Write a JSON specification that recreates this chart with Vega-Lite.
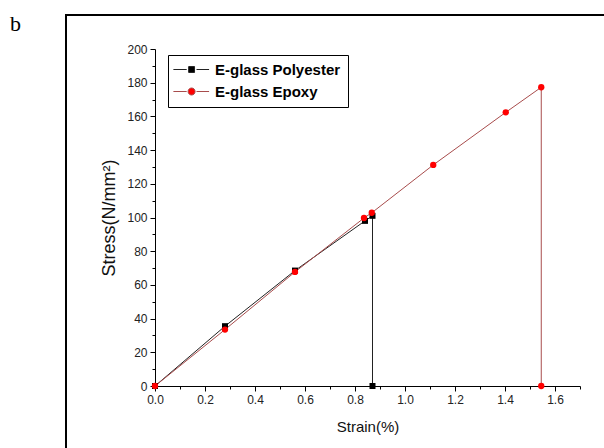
{
  "$schema": "https://vega.github.io/schema/vega-lite/v6.json",
  "width": 425,
  "height": 337,
  "autosize": {"type": "none"},
  "padding": {"left": 155, "top": 49, "right": 24, "bottom": 62},
  "background": "white",
  "title": {"text": "b", "font": "Liberation Serif", "fontSize": 22, "fontWeight": "normal", "anchor": "start", "frame": "group", "dx": -145, "dy": 60, "offset": 21, "baseline": "alphabetic", "color": "#000"},
  "config": {
    "view": {"stroke": null},
    "axis": {"labelFont": "Liberation Sans", "titleFont": "Liberation Sans", "labelColor": "#222", "titleColor": "#111", "domainColor": "#000", "tickColor": "#000", "grid": false, "labelFontSize": 12, "titleFontSize": 15, "titleFontWeight": "normal", "labelOverlap": false, "labelFlush": false},
    "legend": {"orient": "none", "legendX": 13, "legendY": 6, "strokeColor": "#000", "padding": 7, "fillColor": "white", "labelFont": "Liberation Sans", "labelFontSize": 15, "labelFontWeight": "bold", "labelColor": "#000", "symbolSize": 196, "labelOffset": 25, "rowPadding": 6, "symbolStrokeWidth": 1, "symbolOpacity": 1}
  },
  "data": {"values": [
    {"series": "E-glass Polyester", "i": 0, "strain": 0, "stress": 0},
    {"series": "E-glass Polyester", "i": 1, "strain": 0.28, "stress": 35.5},
    {"series": "E-glass Polyester", "i": 2, "strain": 0.56, "stress": 68.5},
    {"series": "E-glass Polyester", "i": 3, "strain": 0.84, "stress": 98},
    {"series": "E-glass Polyester", "i": 4, "strain": 0.87, "stress": 101},
    {"series": "E-glass Polyester", "i": 5, "strain": 0.87, "stress": 0},
    {"series": "E-glass Epoxy", "i": 0, "strain": 0, "stress": 0},
    {"series": "E-glass Epoxy", "i": 1, "strain": 0.28, "stress": 33.5},
    {"series": "E-glass Epoxy", "i": 2, "strain": 0.56, "stress": 67.7},
    {"series": "E-glass Epoxy", "i": 3, "strain": 0.836, "stress": 99.7},
    {"series": "E-glass Epoxy", "i": 4, "strain": 0.867, "stress": 102.8},
    {"series": "E-glass Epoxy", "i": 5, "strain": 1.113, "stress": 131.2},
    {"series": "E-glass Epoxy", "i": 6, "strain": 1.403, "stress": 162.4},
    {"series": "E-glass Epoxy", "i": 7, "strain": 1.545, "stress": 177.3},
    {"series": "E-glass Epoxy", "i": 8, "strain": 1.545, "stress": 0}
  ]},
  "resolve": {"axis": {"x": "independent", "y": "independent"}},
  "layer": [
    {
      "mark": {"type": "rect", "fill": null, "stroke": "#000", "strokeWidth": 1.5, "clip": false},
      "encoding": {
        "x": {"datum": -0.356, "type": "quantitative", "scale": {"domain": [0, 1.7], "nice": false, "zero": false},
          "axis": {"orient": "bottom", "values": [0.1, 0.3, 0.5, 0.7, 0.9, 1.1, 1.3, 1.5, 1.7], "labels": false, "domain": false, "tickSize": 3, "title": null}},
        "x2": {"datum": 2.2},
        "y": {"datum": 220.2, "type": "quantitative", "scale": {"domain": [0, 200], "nice": false, "zero": false},
          "axis": {"orient": "left", "values": [10, 30, 50, 70, 90, 110, 130, 150, 170, 190], "labels": false, "domain": false, "tickSize": 3, "title": null}},
        "y2": {"datum": -60}
      }
    },
    {
      "mark": {"type": "line", "strokeWidth": 1, "clip": false},
      "encoding": {
        "x": {"field": "strain", "type": "quantitative", "scale": {"domain": [0, 1.7], "nice": false, "zero": false},
          "axis": {"orient": "bottom", "values": [0, 0.2, 0.4, 0.6, 0.8, 1.0, 1.2, 1.4, 1.6], "format": ".1f", "tickSize": 5, "labelPadding": 3, "title": "Strain(%)", "titlePadding": 14, "labelOverlap": false}},
        "y": {"field": "stress", "type": "quantitative", "scale": {"domain": [0, 200], "nice": false, "zero": false},
          "axis": {"orient": "left", "values": [0, 20, 40, 60, 80, 100, 120, 140, 160, 180, 200], "tickSize": 5, "labelPadding": 3, "title": "Stress(N/mm²)", "titleFontSize": 18, "titlePadding": 8, "labelOverlap": false}},
        "stroke": {"field": "series", "type": "nominal", "scale": {"domain": ["E-glass Polyester", "E-glass Epoxy"], "range": ["#222222", "#a84c4c"]},
          "legend": {"title": null,
            "encode": {"symbols": {"update": {
              "shape": {"signal": "datum.value == 'E-glass Epoxy' ? 'M-1.3,0H0.6M2,0H3.8M1.8,0A0.5,0.5 0 1,1 0.8,0A0.5,0.5 0 1,1 1.8,0Z' : 'M-1.3,0H0.6M2,0H3.8M0.88,-0.42H1.72V0.42H0.88Z'"},
              "fill": {"signal": "datum.value == 'E-glass Epoxy' ? '#ff0000' : '#000'"},
              "stroke": {"signal": "datum.value == 'E-glass Epoxy' ? '#a84c4c' : '#000'"},
              "strokeWidth": {"value": 1},
              "opacity": {"value": 1}
            }}}}},
        "detail": {"field": "series"},
        "order": {"field": "i", "type": "quantitative"}
      }
    },
    {
      "transform": [{"filter": "datum.series == 'E-glass Polyester'"}],
      "mark": {"type": "point", "shape": "square", "filled": true, "opacity": 1, "size": 36, "clip": false},
      "encoding": {
        "x": {"field": "strain", "type": "quantitative", "scale": {"domain": [0, 1.7], "nice": false, "zero": false}, "axis": null},
        "y": {"field": "stress", "type": "quantitative", "scale": {"domain": [0, 200], "nice": false, "zero": false}, "axis": null},
        "fill": {"field": "series", "type": "nominal", "scale": {"domain": ["E-glass Polyester", "E-glass Epoxy"], "range": ["#000000", "#ff0000"]}, "legend": {"title": null}}
      }
    },
    {
      "transform": [{"filter": "datum.series == 'E-glass Epoxy'"}],
      "mark": {"type": "point", "shape": "circle", "filled": true, "opacity": 1, "size": 40, "clip": false},
      "encoding": {
        "x": {"field": "strain", "type": "quantitative", "scale": {"domain": [0, 1.7], "nice": false, "zero": false}, "axis": null},
        "y": {"field": "stress", "type": "quantitative", "scale": {"domain": [0, 200], "nice": false, "zero": false}, "axis": null},
        "fill": {"field": "series", "type": "nominal", "scale": {"domain": ["E-glass Polyester", "E-glass Epoxy"], "range": ["#000000", "#ff0000"]}, "legend": {"title": null}}
      }
    }
  ]
}
